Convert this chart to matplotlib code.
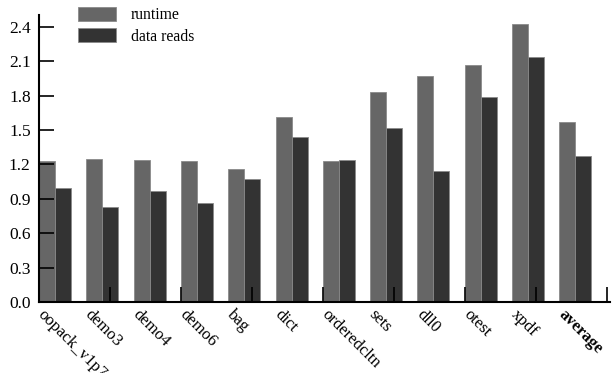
import numpy as np
import matplotlib
matplotlib.use("Agg")
import matplotlib.pyplot as plt
from matplotlib.transforms import offset_copy

benchmarks = ['oopack_v1p7', 'demo3', 'demo4', 'demo6', 'bag', 'dict',
              'orderedcltn', 'sets', 'dll0', 'otest', 'xpdf', 'average']
runtime = [1.23, 1.25, 1.24, 1.23, 1.16, 1.61, 1.23, 1.83, 1.97, 2.07, 2.42, 1.57]
data_reads = [0.99, 0.83, 0.97, 0.86, 1.07, 1.44, 1.24, 1.52, 1.14, 1.79, 2.14, 1.27]
yticks = [0.0, 0.3, 0.6, 0.9, 1.2, 1.5, 1.8, 2.1, 2.4]

plt.rcParams['font.family'] = ['Liberation Serif', 'DejaVu Serif']
plt.rcParams['font.size'] = 12.5

fig = plt.figure(figsize=(6.13, 3.73), dpi=100)
ax = fig.add_axes([39 / 613, 1 - 302 / 373, 571 / 613, 287 / 373])

w = 0.338
x = np.arange(len(benchmarks))
ax.bar(x, runtime, w, align='edge', color='#666666', edgecolor='#8a8a8a',
       linewidth=0.6, label='runtime')
ax.bar(x + w, data_reads, w, align='edge', color='#333333', edgecolor='#8a8a8a',
       linewidth=0.6, label='data reads')

ax.set_xlim(0, 12.07)
ax.set_ylim(0, 2.502)
ax.set_yticks(yticks)
ax.set_yticklabels(['%.1f' % v for v in yticks])
ax.set_xticks(np.arange(0, 12.01, 1.5))
ax.set_xticklabels([])
ax.tick_params(axis='both', direction='in', length=11, width=1.2, color='black')
ax.tick_params(axis='y', pad=6)

for side in ['top', 'right']:
    ax.spines[side].set_visible(False)
for side in ['left', 'bottom']:
    ax.spines[side].set_linewidth(1.5)

# rotated benchmark names hanging below each group
tr = offset_copy(ax.get_xaxis_transform(), fig=fig, x=7, y=-5, units='dots')
for i, name in enumerate(benchmarks):
    ax.text(i, 0, name, transform=tr, rotation=-45, rotation_mode='anchor',
            ha='left', va='top', fontsize=12,
            fontweight='bold' if name == 'average' else 'normal')

fig.legend(loc='upper left', bbox_to_anchor=(78 / 613, 1 - 7 / 373), frameon=False,
           fontsize=11.3, handlelength=2.42, handleheight=1.02, handletextpad=0.95,
           labelspacing=0.3, borderaxespad=0, borderpad=0)

fig.savefig('out.png', dpi=100)
